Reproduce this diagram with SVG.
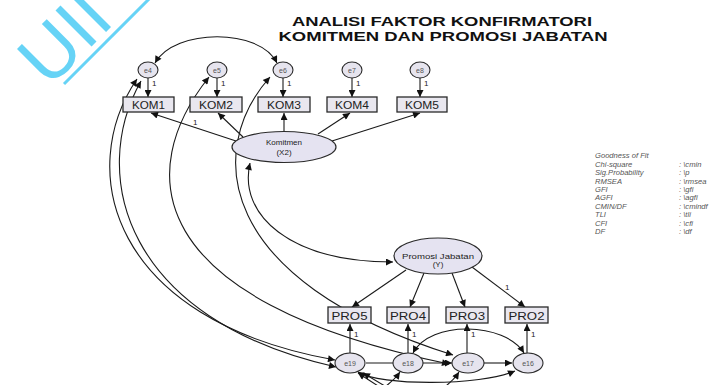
<svg xmlns="http://www.w3.org/2000/svg" width="718" height="385" viewBox="0 0 718 385">
  <defs>
    <marker id="arr" viewBox="0 0 10 10" refX="10" refY="5" markerUnits="userSpaceOnUse" markerWidth="9" markerHeight="7" orient="auto-start-reverse">
      <path d="M0,0 L10,5 L0,10 z" fill="#111"/>
    </marker>
    <style>
      .cov { fill: none; stroke: #1a1a1a; stroke-width: 1.1; marker-start: url(#arr); marker-end: url(#arr); }
      .one { fill: none; stroke: #1a1a1a; stroke-width: 1.1; marker-end: url(#arr); }
      .box { fill: #e9e7ef; stroke: #2a2a2a; stroke-width: 1.3; }
      .lat { fill: #e5e3f1; stroke: #2a2a2a; stroke-width: 1.2; }
      .err { fill: #e6e4ee; stroke: #2a2a2a; stroke-width: 1.1; }
      .bt { font-family: "Liberation Sans", Arial, sans-serif; font-size: 11.5px; fill: #222; text-anchor: middle; }
      .et { font-family: "Liberation Sans", Arial, sans-serif; font-size: 7px; fill: #555; text-anchor: middle; }
      .lt { font-family: "Liberation Sans", Arial, sans-serif; font-size: 8px; fill: #222; text-anchor: middle; }
      .w1 { font-family: "Liberation Sans", Arial, sans-serif; font-size: 8px; fill: #222; }
      .ttl { font-family: "Liberation Sans", Arial, sans-serif; font-size: 13px; font-weight: bold; fill: #111; text-anchor: middle; }
      .fit { font-family: "Liberation Sans", Arial, sans-serif; font-size: 7.6px; font-style: italic; fill: #555; }
    </style>
  </defs>

  <rect width="718" height="385" fill="#ffffff"/>

  <!-- UII watermark -->
  <g id="watermark" fill="#66d3f6">
    <text x="0" y="0" transform="translate(49,89) rotate(-45)" font-family="Liberation Sans, Arial, sans-serif" font-size="74">UII</text>
    <line x1="64" y1="84" x2="156" y2="-8" stroke="#66d3f6" stroke-width="3"/>
  </g>

  <!-- title -->
  <g id="title">
    <text class="ttl" x="442" y="26" textLength="300" lengthAdjust="spacingAndGlyphs">ANALISI FAKTOR KONFIRMATORI</text>
    <text class="ttl" x="443" y="41" textLength="329" lengthAdjust="spacingAndGlyphs">KOMITMEN DAN PROMOSI JABATAN</text>
  </g>

  <!-- connectors -->
  <g id="connectors">
    <!-- errors to Komitmen indicators -->
    <path class="one" d="M148,78 L148,97"/>
    <path class="one" d="M217,78 L217,97"/>
    <path class="one" d="M283,78 L283,97"/>
    <path class="one" d="M352,78 L352,97"/>
    <path class="one" d="M420,78 L420,97"/>
    <!-- Komitmen loadings -->
    <path class="one" d="M236,141 L151,113"/>
    <path class="one" d="M243,137 L218,113"/>
    <path class="one" d="M284,132 L284,113"/>
    <path class="one" d="M318,134 L350,113"/>
    <path class="one" d="M332,141 L420,113"/>
    <!-- Promosi loadings -->
    <path class="one" d="M406,270 L352,307"/>
    <path class="one" d="M424,273 L410,307"/>
    <path class="one" d="M452,273 L465,307"/>
    <path class="one" d="M472,267 L525,307"/>
    <!-- errors to Promosi indicators -->
    <path class="one" d="M350,353 L350,324"/>
    <path class="one" d="M408,353 L408,324"/>
    <path class="one" d="M467,353 L467,324"/>
    <path class="one" d="M527,353 L527,324"/>

    <!-- covariances -->
    <path class="cov" d="M155,63 C175,28 260,28 277,63"/>
    <path class="cov" d="M250,163 C238,215 290,262 393,262"/>
    <path class="cov" d="M137,79 C75,170 110,320 335,360"/>
    <path class="cov" d="M141,81 C88,175 125,320 336,367"/>
    <path class="cov" d="M209,77 C135,170 140,300 449,364"/>
    <path class="cov" d="M270,77 C205,150 215,280 453,355"/>
    <path class="cov" d="M413,353 C430,320 505,322 524,353"/>
    <path class="one" d="M366,363 L452,363"/>
    <path class="one" d="M484,363 L512,363"/>
    <path class="cov" d="M358,372 C380,386 480,386 515,371"/>
    <path class="one" d="M392,395 L358,373"/>
    <path class="one" d="M400,395 L363,373"/>
    <path class="one" d="M372,394 Q390,386 400,372"/>
    <path class="one" d="M432,394 Q450,386 459,372"/>
  </g>

  <!-- Komitmen (X2) -->
  <g id="komitmen">
    <ellipse class="lat" cx="284" cy="147" rx="52" ry="15.5"/>
    <text class="lt" x="284" y="145">Komitmen</text>
    <text class="lt" x="284" y="155">(X2)</text>
  </g>

  <g id="kom1"><rect class="box" x="123" y="97" width="51" height="15"/><text class="bt" x="148.5" y="109" textLength="33" lengthAdjust="spacingAndGlyphs">KOM1</text></g>
  <g id="kom2"><rect class="box" x="190" y="97" width="52" height="15"/><text class="bt" x="216" y="109" textLength="34" lengthAdjust="spacingAndGlyphs">KOM2</text></g>
  <g id="kom3"><rect class="box" x="258" y="97" width="52" height="15"/><text class="bt" x="284" y="109" textLength="34" lengthAdjust="spacingAndGlyphs">KOM3</text></g>
  <g id="kom4"><rect class="box" x="327" y="97" width="50" height="15"/><text class="bt" x="352" y="109" textLength="34" lengthAdjust="spacingAndGlyphs">KOM4</text></g>
  <g id="kom5"><rect class="box" x="397" y="97" width="50" height="15"/><text class="bt" x="422" y="109" textLength="34" lengthAdjust="spacingAndGlyphs">KOM5</text></g>

  <g id="e4"><ellipse class="err" cx="148" cy="70" rx="10" ry="8"/><text class="et" x="148" y="72.5">e4</text></g>
  <g id="e5"><ellipse class="err" cx="217" cy="70" rx="10" ry="8"/><text class="et" x="217" y="72.5">e5</text></g>
  <g id="e6"><ellipse class="err" cx="283" cy="70" rx="10" ry="8"/><text class="et" x="283" y="72.5">e6</text></g>
  <g id="e7"><ellipse class="err" cx="352" cy="70" rx="10" ry="8"/><text class="et" x="352" y="72.5">e7</text></g>
  <g id="e8"><ellipse class="err" cx="420" cy="70" rx="10" ry="8"/><text class="et" x="420" y="72.5">e8</text></g>

  <!-- Promosi Jabatan (Y) -->
  <g id="promosi">
    <ellipse class="lat" cx="438" cy="256" rx="44" ry="18"/>
    <text class="lt" x="438" y="259" textLength="72" lengthAdjust="spacingAndGlyphs">Promosi Jabatan</text>
    <text class="lt" x="438" y="267">(Y)</text>
  </g>

  <g id="pro5"><rect class="box" x="328" y="307" width="43" height="16"/><text class="bt" x="349.5" y="320" textLength="36" lengthAdjust="spacingAndGlyphs">PRO5</text></g>
  <g id="pro4"><rect class="box" x="387" y="307" width="42" height="16"/><text class="bt" x="408" y="320" textLength="36" lengthAdjust="spacingAndGlyphs">PRO4</text></g>
  <g id="pro3"><rect class="box" x="446" y="307" width="42" height="16"/><text class="bt" x="467" y="320" textLength="36" lengthAdjust="spacingAndGlyphs">PRO3</text></g>
  <g id="pro2"><rect class="box" x="505" y="307" width="43" height="16"/><text class="bt" x="526.5" y="320" textLength="36" lengthAdjust="spacingAndGlyphs">PRO2</text></g>

  <g id="e19"><ellipse class="err" cx="350" cy="363" rx="15" ry="10"/><text class="et" x="350" y="366">e19</text></g>
  <g id="e18"><ellipse class="err" cx="408" cy="363" rx="15" ry="10"/><text class="et" x="408" y="366">e18</text></g>
  <g id="e17"><ellipse class="err" cx="468" cy="363" rx="16" ry="10"/><text class="et" x="468" y="366">e17</text></g>
  <g id="e16"><ellipse class="err" cx="528" cy="363" rx="15" ry="10"/><text class="et" x="528" y="366">e16</text></g>

  <!-- regression weight labels -->
  <g id="weights">
    <text class="w1" x="152" y="86">1</text>
    <text class="w1" x="221" y="86">1</text>
    <text class="w1" x="287" y="86">1</text>
    <text class="w1" x="356" y="86">1</text>
    <text class="w1" x="424" y="86">1</text>
    <text class="w1" x="193" y="125">1</text>
    <text class="w1" x="505" y="290">1</text>
    <text class="w1" x="354" y="337">1</text>
    <text class="w1" x="412" y="337">1</text>
    <text class="w1" x="471" y="337">1</text>
    <text class="w1" x="531" y="337">1</text>
  </g>

  <!-- fit summary -->
  <g id="fit">
    <text class="fit" x="595" y="158">Goodness of Fit</text>
    <text class="fit" x="595" y="167">Chi-square</text>
    <text class="fit" x="595" y="175">Sig.Probability</text>
    <text class="fit" x="595" y="184">RMSEA</text>
    <text class="fit" x="595" y="192">GFI</text>
    <text class="fit" x="595" y="200">AGFI</text>
    <text class="fit" x="595" y="209">CMIN/DF</text>
    <text class="fit" x="595" y="217">TLI</text>
    <text class="fit" x="595" y="226">CFI</text>
    <text class="fit" x="595" y="234">DF</text>
    <text class="fit" x="679" y="167">: \cmin</text>
    <text class="fit" x="679" y="175">: \p</text>
    <text class="fit" x="679" y="184">: \rmsea</text>
    <text class="fit" x="679" y="192">: \gfi</text>
    <text class="fit" x="679" y="200">: \agfi</text>
    <text class="fit" x="679" y="209">: \cmindf</text>
    <text class="fit" x="679" y="217">: \tli</text>
    <text class="fit" x="679" y="226">: \cfi</text>
    <text class="fit" x="679" y="234">: \df</text>
  </g>
</svg>
